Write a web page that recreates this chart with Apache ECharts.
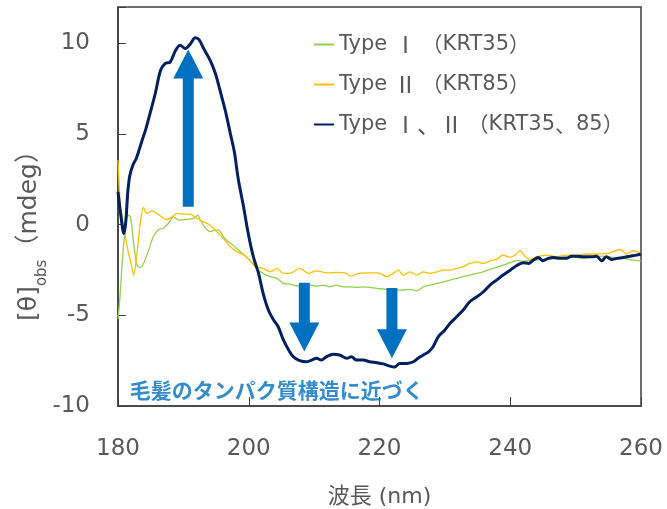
<!DOCTYPE html>
<html>
<head>
<meta charset="utf-8">
<script src="https://cdn.jsdelivr.net/npm/echarts@6/dist/echarts.min.js"></script>
<style>html,body{margin:0;padding:0;background:#fff;}#c{width:667px;height:509px;}</style>
</head>
<body>
<div id="c"></div>
<script>
const seriesNames = ['Type Ⅰ （KRT35）', 'Type Ⅱ （KRT85）', 'Type Ⅰ、Ⅱ （KRT35、85）'];
const xTicks = [180, 200, 220, 240, 260];
const yTicks = [-10, -5, 0, 5, 10];
const xAxisName = '波長 (nm)';
const annotationText = '毛髪のタンパク質構造に近づく';

const type1Points = [[180,-5.2],[180.3,-4.0],[180.7,-1.8],[181.1,-0.3],[181.5,0.52],[181.9,0.43],[182.4,-1.04],[182.9,-2.23],[183.4,-2.36],[183.9,-2.14],[184.7,-1.4],[185.4,-0.67],[186.2,-0.27],[186.9,-0.21],[187.7,0.06],[188.5,0.43],[189.3,0.25],[190,0.28],[191.1,0.3],[191.8,0.4],[192.2,0.52],[192.6,0.25],[193.4,-0.21],[194.1,-0.39],[194.8,-0.3],[195.4,-0.3],[196.1,-0.67],[196.9,-0.95],[197.6,-1.13],[198.4,-1.4],[199.2,-1.65],[200.2,-2.0],[201.2,-2.41],[202.2,-2.69],[203.3,-2.87],[204.3,-2.96],[205.3,-3.24],[206.3,-3.28],[207.3,-3.37],[208.3,-3.37],[209.4,-3.33],[210.4,-3.39],[211.4,-3.33],[212.4,-3.43],[213.4,-3.33],[214.5,-3.43],[215.5,-3.43],[216.5,-3.46],[217.5,-3.43],[218.5,-3.46],[219.6,-3.52],[220.6,-3.55],[221.6,-3.6],[223.1,-3.61],[224.7,-3.57],[225.7,-3.65],[226.7,-3.43],[227.7,-3.33],[228.8,-3.24],[229.8,-3.15],[230.8,-3.06],[231.8,-2.96],[232.8,-2.87],[233.8,-2.78],[234.9,-2.69],[235.9,-2.6],[236.9,-2.47],[237.9,-2.36],[238.9,-2.23],[240,-2.1],[241,-1.98],[242,-2.02],[243,-1.96],[245,-1.92],[247.1,-1.86],[249.1,-1.77],[251.2,-1.86],[252.7,-1.77],[254.2,-1.74],[255.7,-1.81],[257.3,-1.86],[258.8,-1.96],[260,-2.0]];

const type2Points = [[180,3.55],[180.35,1.17],[180.9,-0.12],[181.5,-1.4],[182,-2.14],[182.4,-2.78],[182.9,-1.59],[183.4,0.06],[183.9,0.95],[184.4,0.62],[185.2,0.76],[185.9,0.62],[186.7,0.43],[187.4,0.28],[188.3,0.43],[189,0.62],[190,0.58],[191.1,0.56],[192.1,0.34],[193.1,0.15],[194.1,-0.03],[195.1,-0.39],[196.1,-0.76],[197.2,-1.22],[198.2,-1.5],[199.2,-1.65],[200.2,-1.96],[201.2,-2.32],[202.2,-2.41],[203.3,-2.6],[204.3,-2.41],[205.3,-2.69],[206.3,-2.69],[207.8,-2.41],[209.1,-2.69],[210.4,-2.55],[211.9,-2.66],[213.4,-2.63],[214.7,-2.66],[215.7,-2.84],[216.7,-2.69],[218,-2.66],[219.6,-2.66],[220.1,-2.69],[221.1,-2.87],[222.1,-2.69],[222.9,-2.51],[223.6,-2.78],[224.7,-2.6],[225.7,-2.78],[226.7,-2.6],[227.7,-2.69],[228.8,-2.6],[229.8,-2.51],[230.8,-2.51],[231.8,-2.41],[232.8,-2.32],[233.8,-2.14],[234.9,-2.05],[235.9,-2.14],[236.9,-1.99],[237.9,-1.92],[238.9,-1.68],[240,-1.8],[240.7,-1.68],[241.5,-1.44],[242.3,-1.77],[243,-1.92],[244,-1.77],[245.6,-1.68],[247.1,-1.77],[248.6,-1.68],[250.2,-1.68],[251.7,-1.62],[253.2,-1.62],[254.7,-1.59],[255.7,-1.5],[256.8,-1.37],[257.8,-1.62],[258.8,-1.44],[260,-1.6]];

const type12Points = [[180,1.8],[180.4,0.6],[180.9,-0.5],[181.2,0.2],[181.5,1.8],[181.8,2.7],[182.3,3.3],[182.8,3.65],[183.3,4.2],[183.7,4.66],[184.2,5.2],[184.9,6.13],[185.7,7.23],[186.5,8.5],[187.2,8.88],[188,8.97],[188.8,9.6],[189.5,9.89],[190.3,9.71],[191.1,9.98],[191.8,10.31],[192.4,10.2],[193.1,9.71],[194.1,9.06],[194.9,8.33],[195.6,7.41],[196.4,6.31],[197.2,5.0],[197.8,4.0],[198.4,2.5],[199.2,1.0],[199.9,-0.45],[200.7,-1.77],[201.5,-2.69],[202.2,-3.79],[203,-4.71],[203.8,-5.26],[204.5,-5.63],[205.3,-6.36],[206.1,-6.91],[206.8,-7.28],[207.8,-7.5],[208.9,-7.56],[209.6,-7.47],[210.4,-7.37],[211.1,-7.47],[211.9,-7.28],[212.9,-7.15],[213.9,-7.19],[215,-7.37],[215.7,-7.28],[216.5,-7.47],[217.5,-7.47],[218.5,-7.56],[219.6,-7.61],[220.6,-7.68],[221.6,-7.8],[222.3,-7.85],[223.1,-7.65],[224.2,-7.65],[225.2,-7.56],[225.9,-7.37],[226.7,-7.19],[227.5,-7.01],[228.2,-6.73],[229,-6.18],[230,-5.81],[230.8,-5.44],[231.8,-5.08],[232.8,-4.71],[233.8,-4.25],[234.9,-3.98],[235.9,-3.7],[236.9,-3.33],[237.9,-3.06],[238.9,-2.78],[240,-2.51],[241,-2.25],[242,-2.1],[242.8,-2.14],[243.5,-1.96],[244.3,-1.81],[245,-1.99],[245.8,-1.86],[246.6,-1.81],[247.6,-1.86],[248.6,-1.86],[249.4,-1.74],[250.2,-1.74],[251.2,-1.77],[252.5,-1.77],[253.2,-1.74],[254,-1.99],[254.7,-1.77],[255.5,-1.92],[256.3,-1.86],[257.3,-1.81],[258.3,-1.74],[259.3,-1.68],[260,-1.62]];

// arrows: [x, tail y, tip y]
const arrowPoints = [[190.75, 0.98, 9.65], [208.5, -3.2, -7.0], [221.9, -3.5, -7.37]];
const annotationPoint = [[204.3, -9.1]];

const FONT = '"DejaVu Sans", "Noto Sans CJK JP", sans-serif';
const CJK = '"Noto Sans CJK JP", sans-serif';
const gray = '#595959';
const axisColor = '#404040';
const colors = ['#92D050', '#FFC000', '#002060'];
const widths = [1.3, 1.3, 3];
const pointSets = [type1Points, type2Points, type12Points];

const chart = echarts.init(document.getElementById('c'));

const lineSeries = seriesNames.map((n, i) => ({
  name: n,
  type: 'line',
  data: pointSets[i],
  showSymbol: false,
  symbol: 'none',
  smooth: 0.3,
  lineStyle: { color: colors[i], width: widths[i] },
  itemStyle: { color: colors[i] },
  z: 2 + i
}));

const legendRich = {
  r: { fontFamily: CJK, fontSize: 23, color: gray, lineHeight: 22 },
  p: { fontFamily: CJK, fontSize: 21, color: gray, lineHeight: 22 },
  t: { fontFamily: FONT, fontSize: 21, color: gray, lineHeight: 22 }
};

function legendFmt(name) {
  const m = name.match(/^Type ([ⅠⅡ、]+) （(.*)）$/);
  if (!m) return name;
  const inner = m[2].split('、');
  let innerStr = '{t|' + inner[0] + '}';
  if (inner.length > 1) innerStr += '{p|、}{t|' + inner[1] + '}';
  return '{t|Type }{r|' + m[1] + '}{p| （}' + innerStr + '{p|）}';
}

const option = {
  animation: false,
  backgroundColor: '#fff',
  textStyle: { fontFamily: FONT },
  grid: { left: 118, right: 26, top: 7, bottom: 103, outerBoundsMode: 'none', containLabel: false, show: true, borderColor: axisColor, borderWidth: 1.5, backgroundColor: 'transparent' },
  legend: {
    orient: 'vertical',
    left: 308,
    top: 28,
    itemWidth: 20,
    itemHeight: 14,
    itemGap: 17,
    data: seriesNames,
    formatter: legendFmt,
    itemStyle: { opacity: 0 },
    textStyle: { fontFamily: FONT, fontSize: 21, color: gray, lineHeight: 22, rich: legendRich }
  },
  xAxis: {
    type: 'value',
    min: xTicks[0],
    max: xTicks[xTicks.length - 1],
    interval: xTicks[1] - xTicks[0],
    name: xAxisName,
    nameLocation: 'middle',
    nameGap: 80,
    nameMoveOverlap: false,
    nameTextStyle: { fontFamily: FONT, fontSize: 22, color: gray },
    axisLine: { onZero: false, lineStyle: { color: axisColor, width: 1.5 } },
    axisTick: { inside: true, length: 9, lineStyle: { color: axisColor, width: 1 } },
    axisLabel: { margin: 32, fontSize: 23, color: gray, fontFamily: FONT },
    splitLine: { show: false }
  },
  yAxis: {
    type: 'value',
    min: yTicks[0],
    max: 12,
    interval: yTicks[1] - yTicks[0],
    name: '[θ]{sub|obs}（mdeg）',
    nameLocation: 'middle',
    nameGap: 75,
    nameMoveOverlap: false,
    nameRotate: 90,
    nameTextStyle: {
      fontFamily: FONT, fontSize: 25, color: gray,
      padding: [0, 46, 0, 0],
      rich: { sub: { fontFamily: FONT, fontSize: 15, color: gray, verticalAlign: 'bottom', lineHeight: 28, padding: [0, 0, -7, 0] } }
    },
    axisLine: { onZero: false, lineStyle: { color: axisColor, width: 1.5 } },
    axisTick: { inside: true, length: 8, lineStyle: { color: axisColor, width: 1 } },
    axisLabel: {
      margin: 28, fontSize: 23, color: gray, fontFamily: FONT,
      formatter: v => (yTicks.indexOf(v) >= 0 ? String(v) : '')
    },
    splitLine: { show: false }
  },
  series: lineSeries.concat([
    {
      type: 'custom',
      name: 'arrows',
      data: arrowPoints,
      encode: { x: 0, y: [1, 2] },
      z: 10,
      silent: true,
      renderItem: function (params, api) {
        const x = api.value(0);
        const p0 = api.coord([x, api.value(1)]);
        const p1 = api.coord([x, api.value(2)]);
        const dir = p1[1] > p0[1] ? 1 : -1;
        const headLen = 29, shaftW = 11, headW = 30;
        const hy = p1[1] - dir * headLen;
        const cx = p0[0];
        return {
          type: 'polygon',
          shape: { points: [
            [cx - shaftW / 2, p0[1]], [cx - shaftW / 2, hy], [cx - headW / 2, hy],
            [cx, p1[1]], [cx + headW / 2, hy], [cx + shaftW / 2, hy], [cx + shaftW / 2, p0[1]]
          ] },
          style: { fill: '#0070C0' }
        };
      }
    },
    {
      type: 'scatter',
      name: 'annotation',
      data: annotationPoint,
      symbolSize: 0,
      silent: true,
      z: 11,
      label: {
        show: true,
        position: 'inside',
        formatter: annotationText,
        fontFamily: CJK,
        fontWeight: 'bold',
        fontSize: 21,
        color: '#0070C0'
      }
    }
  ])
};
chart.setOption(option);
</script>
</body>
</html>
